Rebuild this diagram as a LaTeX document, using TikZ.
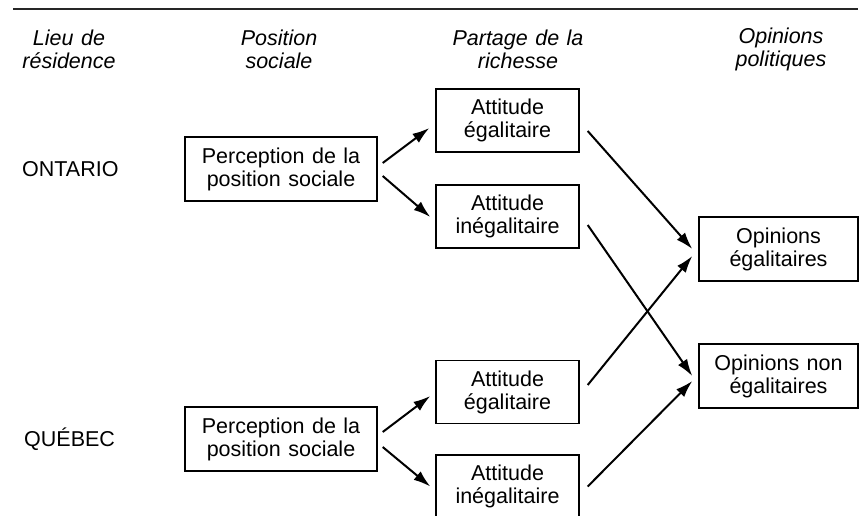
\documentclass[tikz,border=0pt]{standalone}
\usepackage{fontspec}
\setmainfont[WordSpace=1.25]{Liberation Sans}
\usetikzlibrary{calc,arrows.meta}
\begin{document}
\begin{tikzpicture}[x=1pt,y=-1pt,
  every node/.style={font=\fontsize{21.5}{23}\selectfont, align=center, inner sep=0pt},
  box/.style={draw, line width=1.4pt},
  pbox/.style={box, minimum width=192pt, minimum height=64pt},
  abox/.style={box, minimum width=143pt, minimum height=63pt},
  obox/.style={box, minimum width=159pt, minimum height=64pt},
  head/.style={font=\fontsize{21.5}{23}\selectfont\itshape},
  place/.style={anchor=west},
  arr/.style={line width=2pt, -{Latex[length=17pt,width=11pt]}}]
\useasboundingbox (0,0) rectangle (862,515);
\clip (0,0) rectangle (862,515);
\coordinate (ruleL) at (13,9);
\coordinate (ruleR) at (858,9);
\draw[line width=1.8pt, black!85] (ruleL) -- (ruleR);

\node[head] (h1) at (69,49) {Lieu de\\résidence};
\node[head] (h2) at (279,49) {Position\\sociale};
\node[head] (h3) at (518,49) {Partage de la\\richesse};
\node[head] (h4) at (781,49) {Opinions\\politiques};

\node[place] (ont) at (22,169) {ONTARIO};
\node[place] (que) at (24,439) {QUÉBEC};

\node[pbox] (on) at (281,169) {Perception de la\\position sociale};
\node[pbox] (qc) at (281,439) {Perception de la\\position sociale};
\node[abox] (egT) at (507.5,120.5) {Attitude\\égalitaire};
\node[abox] (inT) at (507.5,216.5) {Attitude\\inégalitaire};
\node[abox] (egB) at (507.5,392) {Attitude\\égalitaire};
\node[abox] (inB) at (507.5,486.5) {Attitude\\inégalitaire};
\node[obox] (opE) at (778.5,249) {Opinions\\égalitaires};
\node[obox] (opN) at (778.5,376) {Opinions non\\égalitaires};

\draw[arr] ($(on.east)+(5,-6)$) -- ($(egT.west)+(-6,7.5)$);
\draw[arr] ($(on.east)+(5,7)$) -- ($(inT.west)+(-5,0.5)$);
\draw[arr] ($(qc.east)+(5,-7)$) -- ($(egB.west)+(-5,4)$);
\draw[arr] ($(qc.east)+(5,8)$) -- ($(inB.west)+(-5,0)$);
\draw[arr] ($(egT.east)+(8,10.5)$) -- ($(opE.west)+(-6,0)$);
\draw[arr] ($(inT.east)+(8,8.5)$) -- ($(opN.west)+(-6,0)$);
\draw[arr] ($(egB.east)+(8,-7)$) -- ($(opE.west)+(-6,7)$);
\draw[arr] ($(inB.east)+(8,0)$) -- ($(opN.west)+(-6,5)$);
\end{tikzpicture}
\end{document}
